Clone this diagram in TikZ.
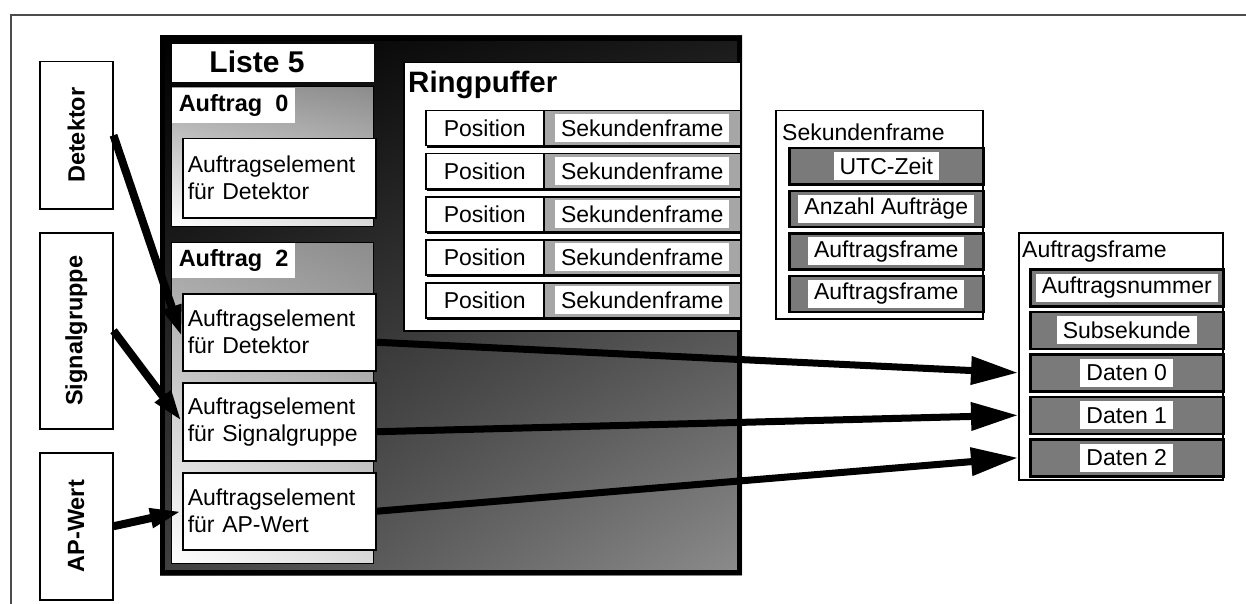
\documentclass[tikz,border=0pt]{standalone}
\usepackage{fontspec}
\setmainfont{Liberation Sans}
\usetikzlibrary{arrows.meta,shadings}

\begin{document}
\begin{tikzpicture}[x=1pt, y=-1pt,
    txt/.style={font=\fontsize{23}{27}\selectfont},
    boldtxt/.style={font=\bfseries\fontsize{23.5}{28}\selectfont},
    box/.style={draw=black, line width=1.5pt, fill=white, inner sep=0pt, anchor=north west},
    src/.style={box, minimum width=73pt},
    elem/.style={box, txt, minimum width=193pt, minimum height=77pt, text width=183pt, inner xsep=5pt, align=left},
    field/.style={box, line width=2.5pt, fill=black!52, minimum height=36pt},
    tag/.style={txt, fill=white, inner xsep=6pt, inner ysep=0pt, minimum height=28pt},
    feed/.style={line width=8pt, -{Triangle[length=32pt, width=18pt]}},
    link/.style={line width=7pt, -{Triangle[length=47pt, width=27pt]}}
  ]
  \useasboundingbox (0,0) rectangle (1246,604);

  % Outer frame
  \draw[black!70, line width=2pt] (11,604) -- (11,15) -- (1246,15);

  % Input boxes
  \node[src, minimum height=147pt] (det) at (39,61) {};
  \node[boldtxt, rotate=90] (detlbl) at (det) {Detektor};
  \node[src, minimum height=196pt] (sig) at (39,232) {};
  \node[boldtxt, rotate=90] (siglbl) at (sig) {Signalgruppe};
  \node[src, minimum height=147pt] (apw) at (39,452) {};
  \node[boldtxt, rotate=90] (apwlbl) at (apw) {AP-Wert};

  % Liste 5
  \shade[upper left=black, upper right=black!90, lower left=black!75, lower right=black!45] (160,36) rectangle (742,575);
  \draw[line width=5pt] (162.5,38.5) rectangle (739.5,572.5);
  \node[box, draw=none, minimum width=202pt, minimum height=38pt] (lst) at (171,43) {};
  \node[font=\bfseries\fontsize{30}{36}\selectfont] (lsttxt) at (257,62) {Liste 5};

  % Auftrag 0
  \shade[upper left=gray!75, upper right=gray!90, lower left=white, lower right=gray!30] (171,87) rectangle (373,226);
  \draw[line width=1pt] (171,87) rectangle (373,226);
  \node[box, boldtxt, draw=none, inner xsep=7pt, minimum height=35pt] (a0) at (171,87) {Auftrag\ \ 0};
  \node[elem, minimum height=79pt] (ad0) at (182,138) {Auftragselement\\für Detektor};

  % Auftrag 2
  \shade[upper left=gray!75, upper right=gray!90, lower left=white, lower right=gray!30] (171,242) rectangle (373,563);
  \draw[line width=1pt] (171,242) rectangle (373,563);
  \node[box, boldtxt, draw=none, inner xsep=7pt, minimum height=35pt] (a2) at (171,242) {Auftrag\ \ 2};
  \node[elem] (ad2) at (182,293) {Auftragselement\\für Detektor};
  \node[elem, minimum height=78pt] (asg) at (182,382) {Auftragselement\\für Signalgruppe};
  \node[elem] (aap) at (182,472) {Auftragselement\\für AP-Wert};

  % Ringpuffer
  \node[box, minimum width=337pt, minimum height=268pt] (rp) at (403,62) {};
  \node[anchor=west, font=\bfseries\fontsize{29.5}{34}\selectfont, inner sep=0pt] (rptxt) at (408,85) {Ringpuffer};
  \foreach \i in {0,...,4} {
    \pgfmathsetmacro\yy{110+43*\i}
    \fill (427,\yy+3) rectangle (740,\yy+38);
    \node[box, txt, minimum width=118pt, minimum height=35pt] (pos\i) at (425,\yy) {Position};
    \node[box, fill=gray!70, minimum width=197pt, minimum height=35pt] (sf\i) at (543,\yy) {};
    \node[tag] (sft\i) at (sf\i) {Sekundenframe};
  }

  % Sekundenframe
  \node[box, minimum width=207pt, minimum height=208pt] (sfp) at (775,110) {};
  \node[txt, anchor=west, inner sep=0pt] (sfptxt) at (782,132) {Sekundenframe};
  \foreach \t [count=\i from 0] in {UTC-Zeit, Anzahl Aufträge, Auftragsframe, Auftragsframe} {
    \pgfmathsetmacro\yy{147+42.5*\i}
    \node[field, minimum width=194pt] (sfi\i) at (788,\yy) {};
    \node[tag] (sfit\i) at (sfi\i) {\t};
  }

  % Auftragsframe
  \node[box, minimum width=204pt, minimum height=247pt] (af) at (1018,232) {};
  \node[txt, anchor=west, inner sep=0pt] (aftxt) at (1022,252) {Auftragsframe};
  \foreach \n/\t [count=\i from 0] in {anr/Auftragsnummer, sub/Subsekunde, dat0/Daten 0, dat1/Daten 1, dat2/Daten 2} {
    \pgfmathsetmacro\yy{268+42.5*\i}
    \node[field, minimum width=193pt, minimum height=37pt] (\n) at (1029,\yy) {};
    \node[tag] (\n-lbl) at (\n) {\t};
  }

  % Arrows into Auftrag 2
  \draw[feed] (det.east) -- ([yshift=-5pt]ad2.west);
  \draw[feed] (sig.east) -- (asg.west);
  \draw[feed] (apw.east) -- (aap.west);

  % Arrows to Auftragsframe
  \draw[link] ([yshift=-10pt]ad2.east) -- (dat0 -| af.west);
  \draw[link] ([yshift=-10pt]asg.east) -- (dat1 -| af.west);
  \draw[link] (aap.east) -- (dat2 -| af.west);
\end{tikzpicture}
\end{document}
